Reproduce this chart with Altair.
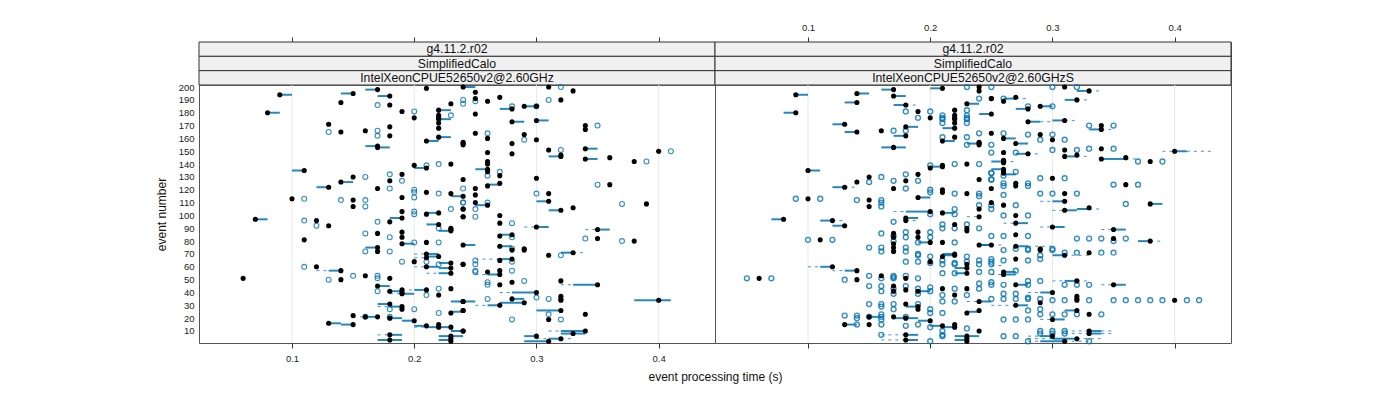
import altair as alt
import pandas as pd

# ---- left panel (IntelXeonCPUE52650v2@2.60GHz) ----
L_med = [(.09,194),(.15,195),(.17,198),(.21,199),(.24,200),(.18,193),(.14,188),(.18,186),(.23,187),(.19,181),(.22,182),(.08,180),
(.22,178),(.22,176),(.22,175),(.20,176),(.22,172),(.13,171),(.22,168),(.18,169),(.16,166),(.14,165),(.18,162),(.22,161),(.21,158),
(.24,157),(.24,156),(.24,155),(.17,154),(.17,153),(.20,139),(.21,137),(.23,140),(.11,135),(.15,130),(.19,132),(.24,128),(.18,127),
(.14,126),(.13,122),(.17,121),(.21,118),(.23,117),(.24,115),(.19,114),(.10,113),(.15,112),(.15,107),(.19,103),(.21,101),(.22,102),
(.24,105),(.24,99),(.18,95),(.19,98),(.07,97),(.12,96),(.13,92),(.22,93),(.23,90),(.23,89),(.23,88),(.17,86),(.19,87),(.19,83),
(.11,81),(.19,78),(.21,79),(.24,77),(.17,75),(.17,72),(.21,70),(.21,67),(.22,68),(.20,64),(.23,63),(.21,60),(.23,59),(.24,62),
(.12,60),(.14,57),(.23,55),(.06,51),(.14,50),(.16,53),(.18,51),(.17,45),(.18,41),(.19,42),(.19,40),(.19,39),(.21,42),(.23,43),
(.22,38),(.24,33),(.18,31),(.19,29),(.19,27),(.23,24),(.24,26),(.15,22),(.16,21),(.17,21),(.18,20),(.20,18),(.13,16),(.15,15),
(.21,14),(.22,15),(.22,13),(.23,13),(.24,10),(.18,7),(.18,3),(.23,6),(.23,4),(.23,2),
(.31,200),(.33,197),(.25,196),(.27,192),(.25,191),(.26,189),(.32,190),(.28,183),(.29,185),(.30,185),(.25,179),(.28,173),(.30,174),
(.34,170),(.34,167),(.25,164),(.29,163),(.26,160),(.30,159),(.28,156),(.31,151),(.34,152),(.26,149),(.28,148),(.32,147),(.32,146),
(.34,144),(.36,145),(.40,150),(.38,142),(.26,142),(.26,140),(.26,136),(.26,134),(.27,131),(.30,129),(.27,125),(.26,123),(.36,124),
(.25,121),(.31,117),(.25,116),(.25,110),(.26,108),(.31,111),(.33,106),(.32,104),(.39,109),(.24,105),(.24,99),(.27,100),(.27,94),
(.30,91),(.35,89),(.27,84),(.28,85),(.35,82),(.38,80),(.27,76),(.28,73),(.29,74),(.29,73),(.33,71),(.31,69),(.27,65),(.28,66),
(.24,62),(.27,57),(.27,54),(.26,56),(.27,46),(.28,48),(.32,49),(.35,46),(.30,40),(.28,35),(.32,37),(.32,35),(.32,34),(.40,34),
(.24,33),(.29,32),(.27,30),(.24,26),(.32,26),(.34,23),(.31,19),(.34,10),(.33,8),(.24,10),(.30,6),(.32,4),(.31,2)]
L_out = [(.17,186),(.24,190),(.24,187),(.20,181),(.23,178),(.13,165),(.17,166),(.17,162),(.21,139),(.22,140),(.16,130),(.18,132),
(.19,127),(.18,121),(.20,120),(.20,118),(.22,117),(.20,114),(.11,113),(.14,112),(.16,112),(.16,107),(.24,110),(.23,105),(.20,103),
(.20,101),(.11,96),(.12,92),(.17,95),(.22,90),(.16,86),(.18,83),(.20,79),(.22,79),(.16,72),(.18,72),(.19,64),(.21,64),(.22,62),
(.11,60),(.13,50),(.15,53),(.17,53),(.17,51),(.17,41),(.22,43),(.21,38),(.18,27),(.20,27),(.22,24),(.16,21),(.18,21),
(.32,200),(.25,189),(.31,190),(.28,185),(.30,185),(.35,170),(.26,164),(.29,159),(.32,151),(.41,150),(.39,142),(.26,131),(.27,134),
(.35,124),(.24,121),(.30,117),(.24,110),(.26,110),(.37,109),(.25,105),(.25,99),(.28,94),(.28,83),(.34,82),(.37,80),(.28,74),(.32,69),
(.25,65),(.25,62),(.28,64),(.25,57),(.25,56),(.28,57),(.26,48),(.26,46),(.29,49),(.30,36),(.26,35),(.31,35),(.31,23),(.28,19),(.32,19)]
L_box = [(.09,.10,194),(.14,.15,195),(.16,.17,198),(.24,.25,200),(.17,.18,193),(.22,.23,182),(.08,.09,180),(.22,.23,175),(.22,.23,161),
(.21,.22,158),(.16,.17,154),(.17,.18,153),(.20,.21,137),(.10,.11,135),(.14,.15,126),(.12,.13,122),(.23,.24,115),(.21,.22,102),
(.18,.19,98),(.07,.08,97),(.21,.22,93),(.22,.23,88),(.19,.20,78),(.24,.25,77),(.16,.17,75),(.21,.22,70),(.21,.22,68),(.22,.23,63),
(.21,.22,60),(.22,.23,59),(.13,.14,57),(.22,.23,55),(.17,.18,45),(.18,.19,41),(.19,.20,39),(.20,.21,42),(.23,.24,33),(.17,.18,31),
(.18,.19,29),(.23,.24,25),(.16,.17,21),(.18,.19,20),(.19,.20,18),(.13,.14,16),(.14,.15,15),(.20,.21,14),(.21,.22,13),(.22,.23,13),
(.23,.24,10),(.18,.19,7),(.17,.19,3),(.22,.24,6),(.22,.23,3),
(.27,.28,183),(.29,.30,185),(.28,.29,173),(.30,.31,174),(.34,.35,152),(.31,.32,146),(.34,.35,144),(.25,.26,136),(.26,.27,124),
(.25,.26,108),(.30,.31,111),(.31,.32,104),(.30,.31,91),(.35,.36,89),(.27,.28,85),(.27,.28,76),(.32,.33,71),(.27,.28,66),(.26,.27,54),
(.33,.35,46),(.28,.30,40),(.28,.29,35),(.38,.41,34),(.24,.25,33),(.27,.29,32),(.26,.27,30),(.30,.32,26),(.32,.34,10),(.32,.34,8),
(.29,.30,6),(.31,.32,4),(.29,.31,2)]
L_whisk = [(.20,.21,70),(.20,.21,67),(.20,.21,60),(.12,.13,57),(.21,.22,55),(.19,.20,42),(.18,.19,39),(.17,.18,29),(.15,.16,21),(.20,.21,13),
(.23,.24,10),(.17,.18,7),(.29,.30,91),(.34,.35,89),(.33,.34,71),(.25,.27,66),(.25,.26,54),(.32,.33,46),(.27,.28,40),(.25,.26,30),
(.31,.32,10),(.30,.31,4),(.32,.33,4)]

# ---- right panel (IntelXeonCPUE52650v2@2.60GHzS) ----
R_med = [(.09,194),(.14,195),(.17,198),(.21,199),(.24,200),(.24,197),(.17,193),(.14,188),(.18,186),(.23,187),(.25,191),(.22,182),(.22,178),
(.22,176),(.22,175),(.22,172),(.22,168),(.19,181),(.20,176),(.09,180),(.13,171),(.18,169),(.16,166),(.14,165),(.18,162),(.22,161),
(.21,158),(.24,157),(.24,156),(.24,155),(.17,153),(.21,139),(.21,138),(.20,137),(.23,140),(.10,135),(.19,132),(.15,130),(.14,126),
(.18,127),(.24,128),(.13,122),(.17,121),(.21,120),(.10,113),(.15,112),(.15,107),(.21,118),(.23,117),(.19,114),(.20,103),(.21,102),
(.24,105),(.24,99),(.08,97),(.12,96),(.13,92),(.18,98),(.18,96),(.22,93),(.23,90),(.23,88),(.17,86),(.17,83),(.19,87),(.19,83),
(.11,81),(.20,79),(.21,79),(.17,78),(.17,75),(.17,72),(.24,77),(.20,64),(.21,68),(.22,70),(.22,69),(.23,62),(.23,59),(.23,55),
(.12,60),(.14,57),(.14,50),(.16,53),(.18,51),(.06,51),(.17,45),(.17,41),(.18,42),(.19,41),(.21,43),(.22,38),(.23,43),(.24,33),
(.18,31),(.19,29),(.19,27),(.23,24),(.24,26),(.13,15),(.15,15),(.15,21),(.17,21),(.18,20),(.20,18),(.21,14),(.22,15),(.22,13),
(.24,10),(.18,7),(.18,3),(.23,6),(.23,4),(.23,2),
(.31,200),(.33,197),(.25,191),(.26,189),(.27,192),(.32,190),(.28,183),(.29,185),(.25,179),(.28,173),(.31,174),(.34,170),(.34,167),
(.25,164),(.29,163),(.26,160),(.30,159),(.27,156),(.26,149),(.28,148),(.31,151),(.31,146),(.32,147),(.34,152),(.34,144),(.36,145),
(.40,150),(.38,142),(.26,143),(.26,142),(.26,141),(.26,136),(.26,134),(.26,133),(.30,129),(.36,124),(.27,125),(.27,123),(.25,121),
(.31,117),(.31,111),(.25,110),(.26,108),(.33,106),(.31,104),(.38,109),(.27,100),(.27,94),(.30,91),(.35,89),(.27,85),(.35,82),(.38,80),
(.25,77),(.27,76),(.29,74),(.29,73),(.33,71),(.31,69),(.27,66),(.26,56),(.26,54),(.27,46),(.32,49),(.35,46),(.30,40),(.32,37),(.32,35),
(.32,34),(.40,34),(.29,32),(.27,30),(.32,26),(.33,23),(.30,19),(.33,10),(.33,8),(.30,6),(.32,4),(.31,2)]
R_out = [(.23,200),(.24,191),(.18,181),(.20,181),(.19,176),(.21,178),(.21,176),(.21,175),(.21,172),(.23,182),(.23,178),(.23,176),(.23,175),
(.23,172),(.17,166),(.18,166),(.21,161),(.23,161),(.24,164),(.23,155),(.20,139),(.22,140),(.24,140),(.18,132),(.16,130),(.15,126),
(.17,127),(.19,127),(.25,133),(.25,128),(.18,121),(.20,120),(.09,113),(.11,113),(.14,112),(.16,112),(.16,110),(.16,107),(.20,118),
(.22,117),(.24,117),(.24,115),(.22,105),(.22,101),(.20,101),(.24,108),(.17,95),(.21,93),(.21,90),(.22,90),(.23,93),(.24,90),(.16,86),
(.17,84),(.18,87),(.18,83),(.20,87),(.20,83),(.10,81),(.12,81),(.19,79),(.22,79),(.17,80),(.15,75),(.16,75),(.16,72),(.18,75),(.18,72),
(.19,70),(.19,69),(.19,64),(.18,64),(.20,68),(.20,63),(.21,65),(.21,62),(.22,63),(.22,62),(.23,68),(.23,64),(.24,65),(.24,62),(.13,50),
(.15,53),(.16,51),(.17,53),(.17,52),(.17,51),(.18,53),(.19,51),(.05,51),(.07,51),(.21,55),(.22,55),(.24,56),(.15,45),(.16,45),(.16,41),
(.17,43),(.17,39),(.18,45),(.19,43),(.19,39),(.20,44),(.20,41),(.21,38),(.22,43),(.23,38),(.24,47),(.24,43),(.15,31),(.16,31),(.16,29),
(.17,31),(.17,27),(.19,31),(.20,27),(.20,24),(.21,33),(.21,24),(.22,33),(.13,22),(.14,22),(.14,20),(.14,15),(.15,21),(.16,23),(.16,21),
(.16,19),(.18,21),(.16,15),(.18,14),(.19,15),(.20,13),(.23,12),(.21,10),(.21,7),(.16,7),(.20,2),(.21,6),
(.25,200),(.30,200),(.32,200),(.26,191),(.28,185),(.30,185),(.33,170),(.35,170),(.26,164),(.28,163),(.30,163),(.29,159),(.31,159),
(.25,155),(.25,149),(.27,149),(.30,151),(.32,151),(.33,152),(.35,152),(.37,142),(.39,142),(.27,134),(.25,133),(.25,128),(.26,131),
(.29,129),(.31,129),(.35,124),(.37,124),(.26,125),(.26,123),(.28,125),(.28,123),(.29,117),(.30,117),(.32,117),(.26,116),(.25,108),
(.25,105),(.27,108),(.36,109),(.26,100),(.28,100),(.25,84),(.26,84),(.28,84),(.32,82),(.33,82),(.34,82),(.35,80),(.36,82),(.26,73),
(.27,74),(.28,74),(.28,73),(.30,74),(.30,73),(.31,71),(.32,71),(.34,71),(.35,71),(.25,66),(.25,64),(.25,62),(.26,65),(.28,65),(.29,69),
(.29,66),(.25,56),(.27,57),(.25,48),(.25,46),(.26,46),(.28,49),(.28,46),(.29,49),(.31,46),(.32,46),(.33,46),(.25,35),(.26,39),(.26,35),
(.27,39),(.27,35),(.28,36),(.28,35),(.29,35),(.30,34),(.31,34),(.33,34),(.35,34),(.36,34),(.37,34),(.38,34),(.39,34),(.41,34),(.42,34),
(.28,26),(.29,27),(.29,23),(.30,23),(.31,23),(.32,23),(.34,23),(.26,19),(.27,19),(.28,19),(.29,10),(.29,8),(.30,10),(.30,8),(.31,10),
(.31,8),(.26,6),(.27,6),(.28,2),(.33,2)]
R_box = [(.09,.10,194),(.14,.15,195),(.16,.17,198),(.20,.21,199),(.17,.18,193),(.13,.14,188),(.17,.18,186),(.23,.24,187),(.08,.09,180),
(.21,.22,168),(.12,.13,171),(.18,.19,169),(.13,.14,165),(.17,.18,162),(.21,.22,158),(.23,.24,156),(.16,.18,153),(.20,.21,138),
(.10,.11,135),(.12,.13,122),(.19,.20,114),(.18,.20,103),(.21,.22,102),(.07,.08,97),(.11,.12,96),(.12,.13,92),(.18,.19,98),(.19,.20,79),
(.24,.25,77),(.21,.22,70),(.21,.22,69),(.22,.23,59),(.11,.12,60),(.13,.14,57),(.22,.23,55),(.19,.20,41),(.24,.25,33),(.18,.19,29),
(.23,.24,25),(.13,.14,15),(.15,.16,21),(.17,.19,20),(.19,.20,18),(.20,.21,14),(.21,.22,13),(.18,.19,7),(.18,.19,3),(.22,.24,6),(.22,.23,3),
(.32,.33,197),(.26,.27,191),(.31,.32,190),(.27,.28,183),(.29,.30,185),(.24,.25,179),(.28,.29,173),(.30,.31,174),(.33,.34,167),
(.26,.27,160),(.27,.28,156),(.27,.28,148),(.31,.32,146),(.34,.36,144),(.40,.41,150),(.25,.26,142),(.25,.26,136),(.26,.27,132),
(.30,.31,111),(.38,.39,109),(.32,.33,105),(.31,.32,104),(.27,.28,94),(.30,.31,91),(.35,.36,89),(.37,.38,80),(.24,.25,77),(.27,.28,76),
(.30,.31,69),(.26,.27,56),(.26,.27,54),(.27,.28,46),(.31,.32,49),(.35,.36,46),(.29,.30,40),(.27,.28,30),(.31,.32,26),(.30,.31,19),
(.33,.34,10),(.33,.34,8),(.29,.30,6),(.30,.32,4),(.29,.31,2)]
R_whisk = [(.18,.19,186),(.17,.18,103),(.13,.14,122),(.23,.24,99),(.10,.11,60),(.12,.13,57),(.23,.24,33),(.18,.19,96),(.16,.18,7),(.16,.18,3),
(.12,.13,96),(.33,.34,197),(.27,.28,191),(.32,.33,190),(.29,.30,173),(.31,.32,174),(.34,.35,167),(.28,.29,148),(.32,.33,146),(.36,.37,144),
(.39,.40,150),(.41,.43,150),(.26,.27,142),(.29,.30,111),(.33,.34,105),(.30,.31,104),(.26,.27,94),(.29,.30,91),(.34,.35,89),
(.38,.39,80),(.25,.26,77),(.28,.30,76),(.31,.33,69),(.25,.26,54),(.30,.31,49),(.32,.33,49),(.34,.35,46),(.28,.29,40),(.25,.27,30),
(.29,.30,19),(.31,.33,10),(.31,.33,8),(.34,.35,10),(.34,.35,8),(.28,.29,6),(.28,.30,4),(.32,.34,4),(.28,.29,2),(.31,.33,2),(.25,.26,61)]

strip_rows = ["g4.11.2.r02", "SimplifiedCalo"]
panel_names = ["IntelXeonCPUE52650v2@2.60GHz", "IntelXeonCPUE52650v2@2.60GHzS"]
x_ticks = [0.1, 0.2, 0.3, 0.4]
y_ticks = list(range(10, 201, 10))

BLUE = "#0072B2"
FONT = "Liberation Sans"
W, H, SH = 516, 258, 43
xs = alt.Scale(domain=[0.0239, 0.4461], nice=False, zero=False)
ys = alt.Scale(domain=[0.65, 201.6], nice=False, zero=False)


def x_axis(labels, title=None, orient="bottom"):
    kw = dict(orient=orient, values=x_ticks, grid=False, domain=False, tickColor="#333333", tickSize=5,
              labels=labels, labelFont=FONT, labelFontSize=9.5, labelColor="#222222", format=".1f", labelPadding=5)
    if title:
        kw.update(title=title, titleFont=FONT, titleFontSize=12, titleFontWeight="normal", titleColor="#111111",
                  titleX=W, titleY=33, titleAnchor="middle", titleAlign="center", titleBaseline="middle")
    else:
        kw.update(title=None)
    return alt.Axis(**kw)


def y_axis(show):
    if not show:
        return None
    return alt.Axis(values=y_ticks, grid=False, domain=False, ticks=False, labelFont=FONT, labelFontSize=9.5,
                    labelColor="#222222", labelPadding=5, labelOverlap=False, title="event number", titleFont=FONT,
                    titleFontSize=12, titleFontWeight="normal", titleColor="#111111", titlePadding=10)


def panel(med, out, box, whisk, left):
    xenc = alt.X("t:Q", scale=xs, axis=x_axis(left, "event processing time (s)" if left else None))
    yenc = alt.Y("ev:Q", scale=ys, axis=y_axis(left))
    grid = alt.Chart(pd.DataFrame({"t": x_ticks})).mark_rule(color="#e8e8e8", strokeWidth=1).encode(
        x=alt.X("t:Q", scale=xs, axis=x_axis(left, "event processing time (s)" if left else None)))
    dbox = pd.DataFrame(box, columns=["t", "t2", "ev"])
    dwh = pd.DataFrame(whisk, columns=["t", "t2", "ev"])
    b = alt.Chart(dbox).mark_rule(color=BLUE, strokeWidth=2, opacity=0.85).encode(x=xenc, x2="t2:Q", y=yenc)
    w = alt.Chart(dwh).mark_rule(color=BLUE, strokeWidth=1, strokeDash=[3, 4], opacity=0.75).encode(x=xenc, x2="t2:Q", y=yenc)
    o = alt.Chart(pd.DataFrame(out, columns=["t", "ev"])).mark_point(
        shape="circle", filled=False, color=BLUE, size=24, strokeWidth=1.1 if left else 1.4, opacity=0.8).encode(x=xenc, y=yenc)
    m = alt.Chart(pd.DataFrame(med, columns=["t", "ev"])).mark_point(
        shape="circle", filled=True, color="black", size=26, opacity=1).encode(x=xenc, y=yenc)
    return alt.layer(grid, w, b, o, m).properties(width=W, height=H)


def strip(name, right):
    rows = strip_rows + [name]
    d = pd.DataFrame({"row": rows})
    yenc = alt.Y("row:N", sort=rows, axis=None, scale=alt.Scale(paddingInner=0, paddingOuter=0))
    rect = alt.Chart(d).mark_bar(fill="#f0f0f0", stroke="#333333", strokeWidth=1).encode(
        x=alt.value(0), x2=alt.value(W), y=yenc)
    txt = alt.Chart(d).mark_text(font=FONT, fontSize=12.25, color="#111111").encode(
        x=alt.value(W / 2), y=yenc, text="row:N")
    ax = alt.Chart(pd.DataFrame({"t": x_ticks})).mark_point(opacity=0).encode(
        x=alt.X("t:Q", scale=xs, axis=x_axis(right, orient="top")))
    return alt.layer(ax, rect, txt).properties(width=W, height=SH)


chart = alt.concat(
    strip(panel_names[0], False), strip(panel_names[1], True),
    panel(L_med, L_out, L_box, L_whisk, True), panel(R_med, R_out, R_box, R_whisk, False),
    columns=2, spacing=0, bounds="flush",
).resolve_scale(x="independent", y="independent").configure_view(
    stroke="#555555", strokeWidth=1
).properties(padding={"left": 146, "top": 13, "right": 5, "bottom": 5})

chart.save("out.html", embed_options={"renderer": "svg", "actions": False})
